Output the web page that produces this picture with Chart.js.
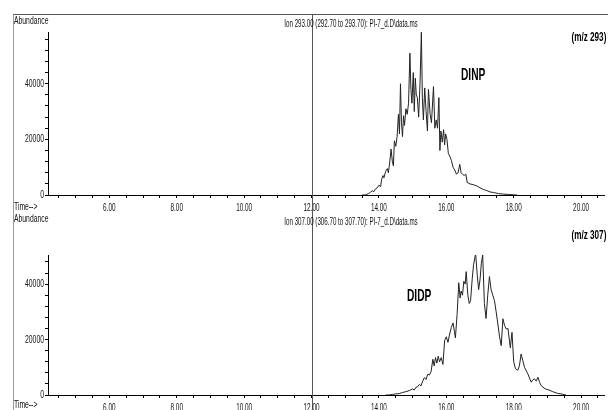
<!DOCTYPE html>
<html>
<head>
<meta charset="utf-8">
<script src="https://cdn.jsdelivr.net/npm/chart.js@4/dist/chart.umd.min.js"></script>
<style>
  body { margin: 0; background: #fff; }
  #wrap { position: relative; width: 608px; height: 410px; overflow: hidden; font-family: "Liberation Sans", Arial, sans-serif; }
  canvas { position: absolute; left: 0; }
  .frame { position: absolute; left: 13px; top: 14px; width: 600px; height: 400px; border-top: 1px solid #555; border-left: 1px solid #999; }
  .lbl { position: absolute; font-size: 10px; line-height: 10px; color: #111; white-space: nowrap; transform: scaleX(0.68); transform-origin: left top; }
  .ion { position: absolute; width: 300px; text-align: center; font-size: 10px; line-height: 10px; color: #111; white-space: nowrap; transform: scaleX(0.62); transform-origin: center top; }
  .mz { position: absolute; right: 2px; font-weight: bold; font-size: 12px; line-height: 12px; color: #000; white-space: nowrap; transform: scaleX(0.68); transform-origin: right top; }
  .cmp { position: absolute; font-weight: bold; font-size: 17px; line-height: 17px; color: #000; white-space: nowrap; transform: scaleX(0.6); transform-origin: left top; }
</style>
</head>
<body>
<div id="wrap">
  <div class="frame"></div>
  <canvas id="c293" width="608" height="216" style="top:0px"></canvas>
  <canvas id="c307" width="608" height="210" style="top:200px"></canvas>

  <div class="lbl" style="left:14px;top:16px">Abundance</div>
  <div class="ion" style="left:201px;top:19px">Ion 293.00 (292.70 to 293.70): PI-7_d.D\data.ms</div>
  <div class="mz" style="top:31px">(m/z 293)</div>
  <div class="cmp" style="left:461px;top:66px">DINP</div>
  <div class="lbl" style="left:14px;top:202px">Time--&gt;</div>

  <div class="lbl" style="left:14px;top:214px">Abundance</div>
  <div class="ion" style="left:201px;top:217px">Ion 307.00 (306.70 to 307.70): PI-7_d.D\data.ms</div>
  <div class="mz" style="top:229px">(m/z 307)</div>
  <div class="cmp" style="left:407px;top:287px">DIDP</div>
  <div class="lbl" style="left:14px;top:400px">Time--&gt;</div>
</div>
<script>
// retention time (min) and abundance, ion 293 (DINP)
var times293 = [13.50, 13.60, 13.65, 13.70, 13.75, 13.80, 13.85, 13.90, 13.95, 14.00,
  14.05, 14.08, 14.12, 14.15, 14.20, 14.25, 14.28, 14.32, 14.36, 14.40,
  14.43, 14.46, 14.50, 14.54, 14.58, 14.61, 14.64, 14.67, 14.70, 14.73,
  14.76, 14.80, 14.84, 14.88, 14.92, 14.95, 14.98, 15.02, 15.05, 15.08,
  15.11, 15.14, 15.18, 15.22, 15.26, 15.29, 15.32, 15.36, 15.40, 15.44,
  15.47, 15.52, 15.56, 15.62, 15.66, 15.70, 15.74, 15.78, 15.81, 15.84,
  15.88, 15.92, 15.95, 15.98, 16.02, 16.06, 16.10, 16.15, 16.20, 16.25,
  16.30, 16.35, 16.40, 16.44, 16.48, 16.53, 16.58, 16.62, 16.70, 16.80,
  16.90, 17.00, 17.10, 17.20, 17.30, 17.40, 17.55, 17.70, 17.85, 18.00, 18.10];
var abund293 = [0, 0, 300, 600, 1000, 1500, 1200, 2200, 2600, 3500,
  3000, 5500, 7000, 6200, 8500, 9500, 8000, 11500, 16500, 12000,
  10500, 19500, 17500, 21000, 29000, 22000, 40000, 26000, 21000, 28500,
  25000, 31000, 29000, 33000, 51000, 38000, 33000, 44000, 30000, 42000,
  36000, 35000, 28000, 40000, 58500, 35000, 27000, 38500, 30000, 23000,
  38000, 29000, 26000, 39000, 24000, 27000, 24000, 35000, 16000, 23000,
  19000, 23500, 18000, 22000, 20000, 15000, 14000, 12500, 10000, 9000,
  7500, 8000, 11000, 8000, 7500, 7000, 7500, 4500, 4000, 3700,
  3300, 2600, 2000, 1600, 1100, 900, 500, 300, 200, 50, 0];

// retention time (min) and abundance, ion 307 (DIDP)
var times307 = [14.20, 14.30, 14.40, 14.50, 14.60, 14.70, 14.80, 14.90, 15.00, 15.05,
  15.10, 15.15, 15.20, 15.25, 15.30, 15.35, 15.40, 15.45, 15.50, 15.55,
  15.60, 15.64, 15.68, 15.72, 15.76, 15.80, 15.85, 15.90, 15.95, 16.00,
  16.05, 16.10, 16.15, 16.20, 16.24, 16.27, 16.32, 16.37, 16.41, 16.44,
  16.48, 16.52, 16.56, 16.59, 16.64, 16.68, 16.72, 16.77, 16.81, 16.87,
  16.92, 16.96, 17.00, 17.04, 17.08, 17.13, 17.18, 17.23, 17.28, 17.33,
  17.38, 17.43, 17.48, 17.53, 17.58, 17.63, 17.68, 17.73, 17.78, 17.83,
  17.90, 17.95, 18.00, 18.05, 18.12, 18.17, 18.22, 18.27, 18.32, 18.42,
  18.52, 18.57, 18.62, 18.67, 18.72, 18.77, 18.82, 18.90, 18.96, 19.05,
  19.16, 19.30, 19.45, 19.55];
var abund307 = [0, 0, 200, 400, 500, 900, 1200, 1600, 2200, 1800,
  2800, 3000, 3800, 3300, 5000, 6300, 5600, 7500, 7200, 8500,
  12900, 10500, 13500, 11500, 14000, 12000, 13500, 11000, 19600, 21000,
  19000, 22000, 24400, 26000, 23000, 20600, 29000, 40500, 35000, 37500,
  36000, 41000, 40000, 44500, 36000, 33000, 34000, 42000, 47000, 51000,
  43000, 38000, 41500, 47500, 50500, 33000, 27600, 36000, 42700, 38000,
  36000, 34000, 30000, 25600, 21000, 17800, 27500, 25000, 23800, 24000,
  17000, 22600, 12000, 9500, 8900, 10500, 14800, 12500, 10000, 7600,
  4600, 5500, 5800, 5000, 6400, 4500, 3300, 2500, 2100, 1800,
  1200, 600, 300, 0];

var xTickLabels = ['6.00', '8.00', '10.00', '12.00', '14.00', '16.00', '18.00', '20.00'];
var yTickLabels = ['0', '20000', '40000'];
var cursorTime = 12.00;

// cursor line at 12.00 min, runs through both panels
var cursorLine = {
  id: 'cursorLine',
  afterDraw: function(chart, args, opts) {
    var ctx = chart.ctx;
    var x = Math.round(chart.scales.x.getPixelForValue(cursorTime)) + 0.5;
    ctx.save();
    ctx.strokeStyle = '#555';
    ctx.lineWidth = 1;
    ctx.beginPath();
    ctx.moveTo(x, opts.from);
    ctx.lineTo(x, chart.height);
    ctx.stroke();
    ctx.restore();
  }
};

// narrow tick labels like the instrument printout
var narrowTicks = {
  id: 'narrowTicks',
  afterDraw: function(chart) {
    var ctx = chart.ctx;
    var xs = chart.scales.x, ys = chart.scales.y;
    ctx.save();
    ctx.fillStyle = '#111';
    ctx.font = "11px 'Liberation Sans', Arial, sans-serif";
    ctx.textBaseline = 'top';
    ctx.textAlign = 'center';
    xs.ticks.forEach(function(t) {
      var s = t.value.toFixed(2);
      if (xTickLabels.indexOf(s) < 0) return;
      ctx.save();
      ctx.translate(xs.getPixelForValue(t.value), xs.top + 7);
      ctx.scale(0.58, 1);
      ctx.fillText(s, 0, 0);
      ctx.restore();
    });
    ctx.textBaseline = 'middle';
    ctx.textAlign = 'right';
    ys.ticks.forEach(function(t) {
      var s = String(t.value);
      if (yTickLabels.indexOf(s) < 0) return;
      ctx.save();
      ctx.translate(ys.right - 4, ys.getPixelForValue(t.value));
      ctx.scale(0.62, 1);
      ctx.fillText(s, 0, 0);
      ctx.restore();
    });
    ctx.restore();
  }
};

function makeChron(id, times, abund, yMax, padTop, baseY, lineFrom) {
  var pts = times.map(function(t, i) { return { x: t, y: abund[i] }; });
  var canvas = document.getElementById(id);
  var axisH = canvas.height - baseY;
  return new Chart(canvas, {
    type: 'line',
    data: {
      datasets: [{
        data: pts,
        borderColor: '#222',
        borderWidth: 1,
        pointRadius: 0,
        tension: 0,
        fill: false
      }]
    },
    options: {
      responsive: false,
      animation: false,
      layout: { padding: { top: padTop, right: 4, left: 0, bottom: 0 } },
      plugins: { legend: { display: false }, tooltip: { enabled: false }, cursorLine: { from: lineFrom } },
      scales: {
        x: {
          type: 'linear',
          min: 4.18,
          max: 20.68,
          afterBuildTicks: function(scale) {
            var t = [];
            for (var v = 4.5; v <= 20.5; v += 0.5) t.push({ value: v });
            scale.ticks = t;
          },
          afterFit: function(scale) { scale.height = axisH; },
          border: { display: true, color: '#000', width: 1 },
          grid: { drawOnChartArea: false, drawTicks: true, tickLength: 3, color: '#000' },
          ticks: { display: false }
        },
        y: {
          min: 0,
          max: yMax,
          afterBuildTicks: function(scale) {
            var t = [];
            for (var v = 0; v <= yMax; v += 4000) t.push({ value: v });
            scale.ticks = t;
          },
          afterFit: function(scale) { scale.width = 48; },
          border: { display: true, color: '#000', width: 1 },
          grid: { drawOnChartArea: false, drawTicks: true, tickLength: 3, color: '#000' },
          ticks: { display: false }
        }
      }
    },
    plugins: [cursorLine, narrowTicks]
  });
}

makeChron('c293', times293, abund293, 58600, 32, 195, 14);
makeChron('c307', times307, abund307, 50500, 55, 195, 0);
</script>
</body>
</html>
